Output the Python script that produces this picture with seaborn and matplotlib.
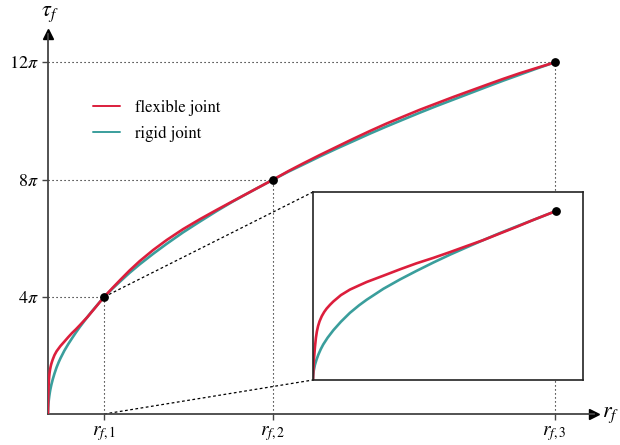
import numpy as np
import pandas as pd
import matplotlib
matplotlib.use("Agg")
import matplotlib.pyplot as plt
from matplotlib.lines import Line2D
import seaborn as sns

# Radius samples (in units of r_{f,1}) and torque samples (in units of pi)
r_flex = [0, 0.002, 0.004, 0.008, 0.012, 0.016, 0.021, 0.027, 0.036, 0.046,
          0.056, 0.070, 0.084, 0.115, 0.152, 0.190, 0.221, 0.290, 0.358, 0.425,
          0.495, 0.565, 0.632, 0.700, 0.770, 0.840, 0.907, 1.0,
          1.14, 1.28, 1.45, 1.63, 1.87, 2.11, 2.40, 2.70, 3.00, 3.29, 3.65, 4.0,
          4.27, 4.53, 4.83, 5.13, 5.42, 5.72, 6.01, 6.31, 6.60, 6.90, 7.20,
          7.50, 7.80, 8.09, 8.38, 8.68, 9.0]
tau_flex = [0, 0.30, 0.50, 0.78, 1.00, 1.15, 1.28, 1.39, 1.51, 1.61,
            1.69, 1.78, 1.86, 2.01, 2.14, 2.24, 2.32, 2.47, 2.62, 2.76,
            2.89, 3.03, 3.17, 3.31, 3.47, 3.63, 3.79, 4.0,
            4.29, 4.57, 4.90, 5.22, 5.60, 5.94, 6.31, 6.65, 6.97, 7.27, 7.64, 8.0,
            8.29, 8.55, 8.84, 9.12, 9.39, 9.66, 9.91, 10.15, 10.38, 10.60, 10.82,
            11.03, 11.24, 11.44, 11.63, 11.81, 12.0]

r_rigid = [0, 0.001, 0.003, 0.008, 0.015, 0.022, 0.032, 0.042, 0.060, 0.084,
           0.115, 0.152, 0.190, 0.221, 0.290, 0.358, 0.425, 0.495, 0.565, 0.632,
           0.700, 0.770, 0.840, 0.907, 1.0,
           1.14, 1.28, 1.45, 1.63, 1.87, 2.11, 2.40, 2.70, 3.00, 3.29, 3.65, 4.0,
           4.27, 4.53, 4.83, 5.13, 5.42, 5.72, 6.01, 6.31, 6.60, 6.90, 7.20,
           7.50, 7.80, 8.09, 8.38, 8.68, 9.0]
tau_rigid = [0, 0.12, 0.22, 0.36, 0.49, 0.60, 0.73, 0.84, 1.00, 1.18,
             1.38, 1.59, 1.77, 1.90, 2.16, 2.38, 2.58, 2.78, 2.97, 3.14,
             3.31, 3.48, 3.64, 3.79, 4.0,
             4.27, 4.52, 4.82, 5.11, 5.47, 5.81, 6.20, 6.57, 6.93, 7.26, 7.64, 8.0,
             8.27, 8.51, 8.79, 9.06, 9.31, 9.57, 9.81, 10.05, 10.28, 10.51, 10.73,
             10.95, 11.17, 11.38, 11.58, 11.79, 12.0]

# Operating points shared by both joints
r_marks = [1, 4, 9]
tau_marks = [4, 8, 12]
x_tick_labels = [r"$r_{f,1}$", r"$r_{f,2}$", r"$r_{f,3}$"]
y_tick_labels = [r"$4\pi$", r"$8\pi$", r"$12\pi$"]
series_names = ["flexible joint", "rigid joint"]
palette = {"flexible joint": "#DC1E3C", "rigid joint": "#3A9E9C"}

df = pd.concat([
    pd.DataFrame({"r": r_flex, "tau": tau_flex, "joint": series_names[0]}),
    pd.DataFrame({"r": r_rigid, "tau": tau_rigid, "joint": series_names[1]}),
])

sns.set_theme(style="white")
plt.rcParams["font.family"] = ["STIXGeneral", "DejaVu Serif"]
plt.rcParams["mathtext.fontset"] = "stix"
plt.rcParams["text.color"] = "black"
plt.rcParams["xtick.labelcolor"] = "black"
plt.rcParams["ytick.labelcolor"] = "black"

W, H = 620, 445
fig = plt.figure(figsize=(W / 100, H / 100), dpi=100)
ax = fig.add_axes([48 / W, 31 / H, 546 / W, 380 / H])
ax.set_xlim(0, 9.70)
ax.set_ylim(0, 12.97)

# Guide lines from the axes to each operating point
dot = (0, (1, 2.6))
for r, t in zip(r_marks, tau_marks):
    ax.plot([0, r], [t, t], color="black", lw=0.8, ls=dot, zorder=1)
    ax.plot([r, r], [0, t], color="black", lw=0.8, ls=dot, zorder=1)

line_kw = dict(estimator=None, sort=False, lw=1.9, legend=False,
               solid_joinstyle="round", solid_capstyle="round")
sns.lineplot(data=df, x="r", y="tau", hue="joint", hue_order=series_names[::-1],
             palette=palette, ax=ax, zorder=3, **line_kw)
ax.scatter(r_marks, tau_marks, s=28, color="black", zorder=5)

# Axis styling with arrow heads
for side in ["top", "right"]:
    ax.spines[side].set_visible(False)
for side in ["left", "bottom"]:
    ax.spines[side].set_color("#444444")
    ax.spines[side].set_linewidth(1.3)
ax.plot(1, 0, ">", color="black", ms=7, transform=ax.get_yaxis_transform(), clip_on=False)
ax.plot(0, 1, "^", color="black", ms=7, transform=ax.get_xaxis_transform(), clip_on=False)

ax.set_xticks(r_marks)
ax.set_xticklabels(x_tick_labels, fontsize=14)
ax.set_yticks(tau_marks)
ax.set_yticklabels(y_tick_labels, fontsize=13)
ax.tick_params(axis="both", direction="out", length=4, width=1.0, color="#444444",
               pad=3, bottom=True, left=True, labelcolor="black")
ax.set_xlabel("")
ax.set_ylabel("")
fig.text(50 / W, 1 - 14 / H, r"$\tau_f$", fontsize=16, ha="center", va="center",
         color="black")
fig.text(611 / W, 1 - 415 / H, r"$r_f$", fontsize=16, ha="center", va="center",
         color="black")

# Legend
handles = [Line2D([], [], color=palette[n], lw=1.4) for n in series_names]
leg = ax.legend(handles, series_names, loc="upper left", bbox_to_anchor=(0.055, 0.865),
                frameon=False, fontsize=12, handlelength=1.6, handletextpad=0.9,
                labelspacing=0.55)
for t in leg.get_texts():
    t.set_color("black")

# Zoomed view of the start-up region
ix0, iy0, ix1, iy1 = 313, 192, 583, 380
ins = fig.add_axes([ix0 / W, 1 - iy1 / H, (ix1 - ix0) / W, (iy1 - iy0) / H])
ins.set_facecolor("white")
ins.set_zorder(ax.get_zorder() + 1)
sns.lineplot(data=df[df["r"] <= 1.0], x="r", y="tau", hue="joint",
             hue_order=series_names[::-1], palette=palette, ax=ins, **line_kw)
ins.scatter([r_marks[0]], [tau_marks[0]], s=28, color="black", zorder=5)
ins.set_xlim(0, 1.111)
ins.set_ylim(0, 4.45)
ins.set_xticks([])
ins.set_yticks([])
ins.set_xlabel("")
ins.set_ylabel("")
for s in ins.spines.values():
    s.set_visible(True)
    s.set_color("#222222")
    s.set_linewidth(1.2)

# Connectors from the main plot to the inset corners
to_data = ax.transData.inverted()
c_top = to_data.transform((ix0, H - iy0))
c_bot = to_data.transform((ix0, H - iy1))
dash = (0, (2.2, 2.0))
ax.plot([r_marks[0], c_top[0]], [tau_marks[0], c_top[1]], color="black", lw=0.9,
        ls=dash, zorder=2, clip_on=False)
ax.plot([r_marks[0], c_bot[0]], [0, c_bot[1]], color="black", lw=0.9,
        ls=dash, zorder=2, clip_on=False)

fig.savefig("out.png", dpi=100)
